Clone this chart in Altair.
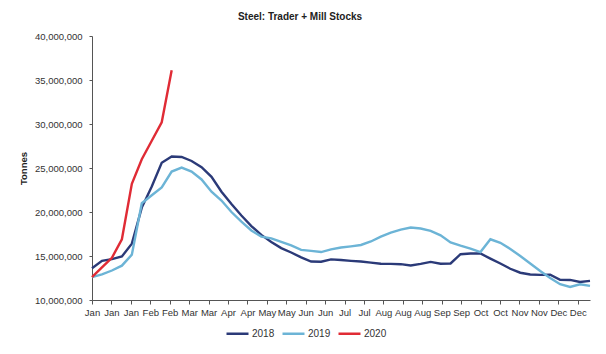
import json
import altair as alt
import pandas as pd

TITLE = "Steel: Trader + Mill Stocks"
TICK_LABELS = ["Jan", "Jan", "Jan", "Feb", "Feb", "Mar", "Mar", "Apr", "Apr", "May",
               "May", "Jun", "Jun", "Jul", "Jul", "Aug", "Aug", "Aug", "Sep", "Sep",
               "Oct", "Oct", "Nov", "Nov", "Dec", "Dec"]
YEARS = ["2018", "2019", "2020"]
COLORS = ["#2B3A78", "#6CB4D6", "#E02B35"]

# stocks in million tonnes, one value per period
S2018 = [13.6, 14.45, 14.65, 14.95, 16.4, 20.5, 22.9, 25.6, 26.3, 26.25,
         25.8, 25.1, 24.0, 22.3, 20.9, 19.6, 18.4, 17.4, 16.6, 15.9,
         15.4, 14.85, 14.37, 14.35, 14.62, 14.55, 14.45, 14.37, 14.25, 14.12,
         14.1, 14.07, 13.92, 14.1, 14.33, 14.12, 14.15, 15.2, 15.28, 15.28,
         14.7, 14.15, 13.55, 13.1, 12.9, 12.85, 12.88, 12.3, 12.28, 12.05,
         12.17]
S2019 = [12.6, 12.9, 13.35, 13.9, 15.15, 21.0, 21.9, 22.8, 24.6, 25.05,
         24.6, 23.7, 22.3, 21.3, 20.0, 18.9, 17.9, 17.2, 17.0, 16.6,
         16.2, 15.7, 15.58, 15.45, 15.75, 15.97, 16.1, 16.25, 16.65, 17.2,
         17.65, 18.0, 18.23, 18.12, 17.85, 17.35, 16.55, 16.18, 15.85, 15.45,
         16.9, 16.5, 15.8, 15.0, 14.15, 13.3, 12.5, 11.8, 11.48, 11.78,
         11.6]
S2020 = [12.6, 13.7, 14.8, 16.9, 23.2, 26.0, 28.1, 30.2, 36.1]

rows = []
for year, series in zip(YEARS, [S2018, S2019, S2020]):
    for i, v in enumerate(series):
        rows.append({"period": i, "tonnes": v * 1_000_000, "year": year})
df = pd.DataFrame(rows)
ticks = pd.DataFrame({"k": list(range(len(TICK_LABELS)))})

FONT = "Liberation Sans"
W, H = 498, 264

lines = alt.Chart(df).mark_line(strokeWidth=2.4).encode(
    x=alt.X("period:Q", scale=alt.Scale(domain=[0, 50], nice=False, zero=False), axis=None),
    y=alt.Y("tonnes:Q",
            scale=alt.Scale(domain=[10_000_000, 40_000_000], nice=False, zero=False),
            axis=alt.Axis(values=[10_000_000, 15_000_000, 20_000_000, 25_000_000,
                                  30_000_000, 35_000_000, 40_000_000],
                          format=",.0f", title="Tonnes", grid=False,
                          domainColor="#555555", tickColor="#555555", tickSize=3,
                          labelPadding=7, labelFontSize=9.5, labelColor="#333333",
                          labelFont=FONT, titleFont=FONT, titleFontSize=9.5,
                          titleFontWeight="bold", titleColor="#222222",
                          titleX=-69, titleY=H / 2, titleAngle=-90,
                          titleBaseline="middle", titleAlign="center")),
    color=alt.Color("year:N", scale=alt.Scale(domain=YEARS, range=COLORS),
                    legend=alt.Legend(title=None, orient="none", direction="horizontal",
                                      legendX=133, legendY=285,
                                      symbolType="stroke", symbolSize=484,
                                      symbolStrokeWidth=2.5, labelFontSize=10,
                                      labelFont=FONT, labelColor="#333333",
                                      labelOffset=2, columnPadding=2, padding=0)),
)

label_expr = json.dumps(TICK_LABELS).replace('"', "'") + "[datum.value]"
xaxis = alt.Chart(ticks).mark_rule(opacity=0).encode(
    x=alt.X("k:Q", scale=alt.Scale(domain=[0, 25.63], nice=False, zero=False),
            axis=alt.Axis(values=list(range(len(TICK_LABELS))), labelExpr=label_expr,
                          title=None, grid=False, domainColor="#555555",
                          tickColor="#555555", tickSize=4, labelPadding=3,
                          labelFontSize=9.5, labelColor="#333333", labelFont=FONT,
                          labelAngle=0, labelOverlap=False, labelFlush=False)),
)

chart = alt.layer(xaxis, lines).resolve_scale(x="independent").properties(
    width=W, height=H,
    title=alt.TitleParams(TITLE, font=FONT, fontSize=10, fontWeight="bold",
                          color="#222222", anchor="middle", dx=-41, dy=-5),
    autosize=alt.AutoSizeParams(type="none"),
    padding={"left": 92, "top": 36, "right": 16, "bottom": 54},
).configure_view(stroke=None)

chart.save("out.html", embed_options={"renderer": "svg", "actions": False})
